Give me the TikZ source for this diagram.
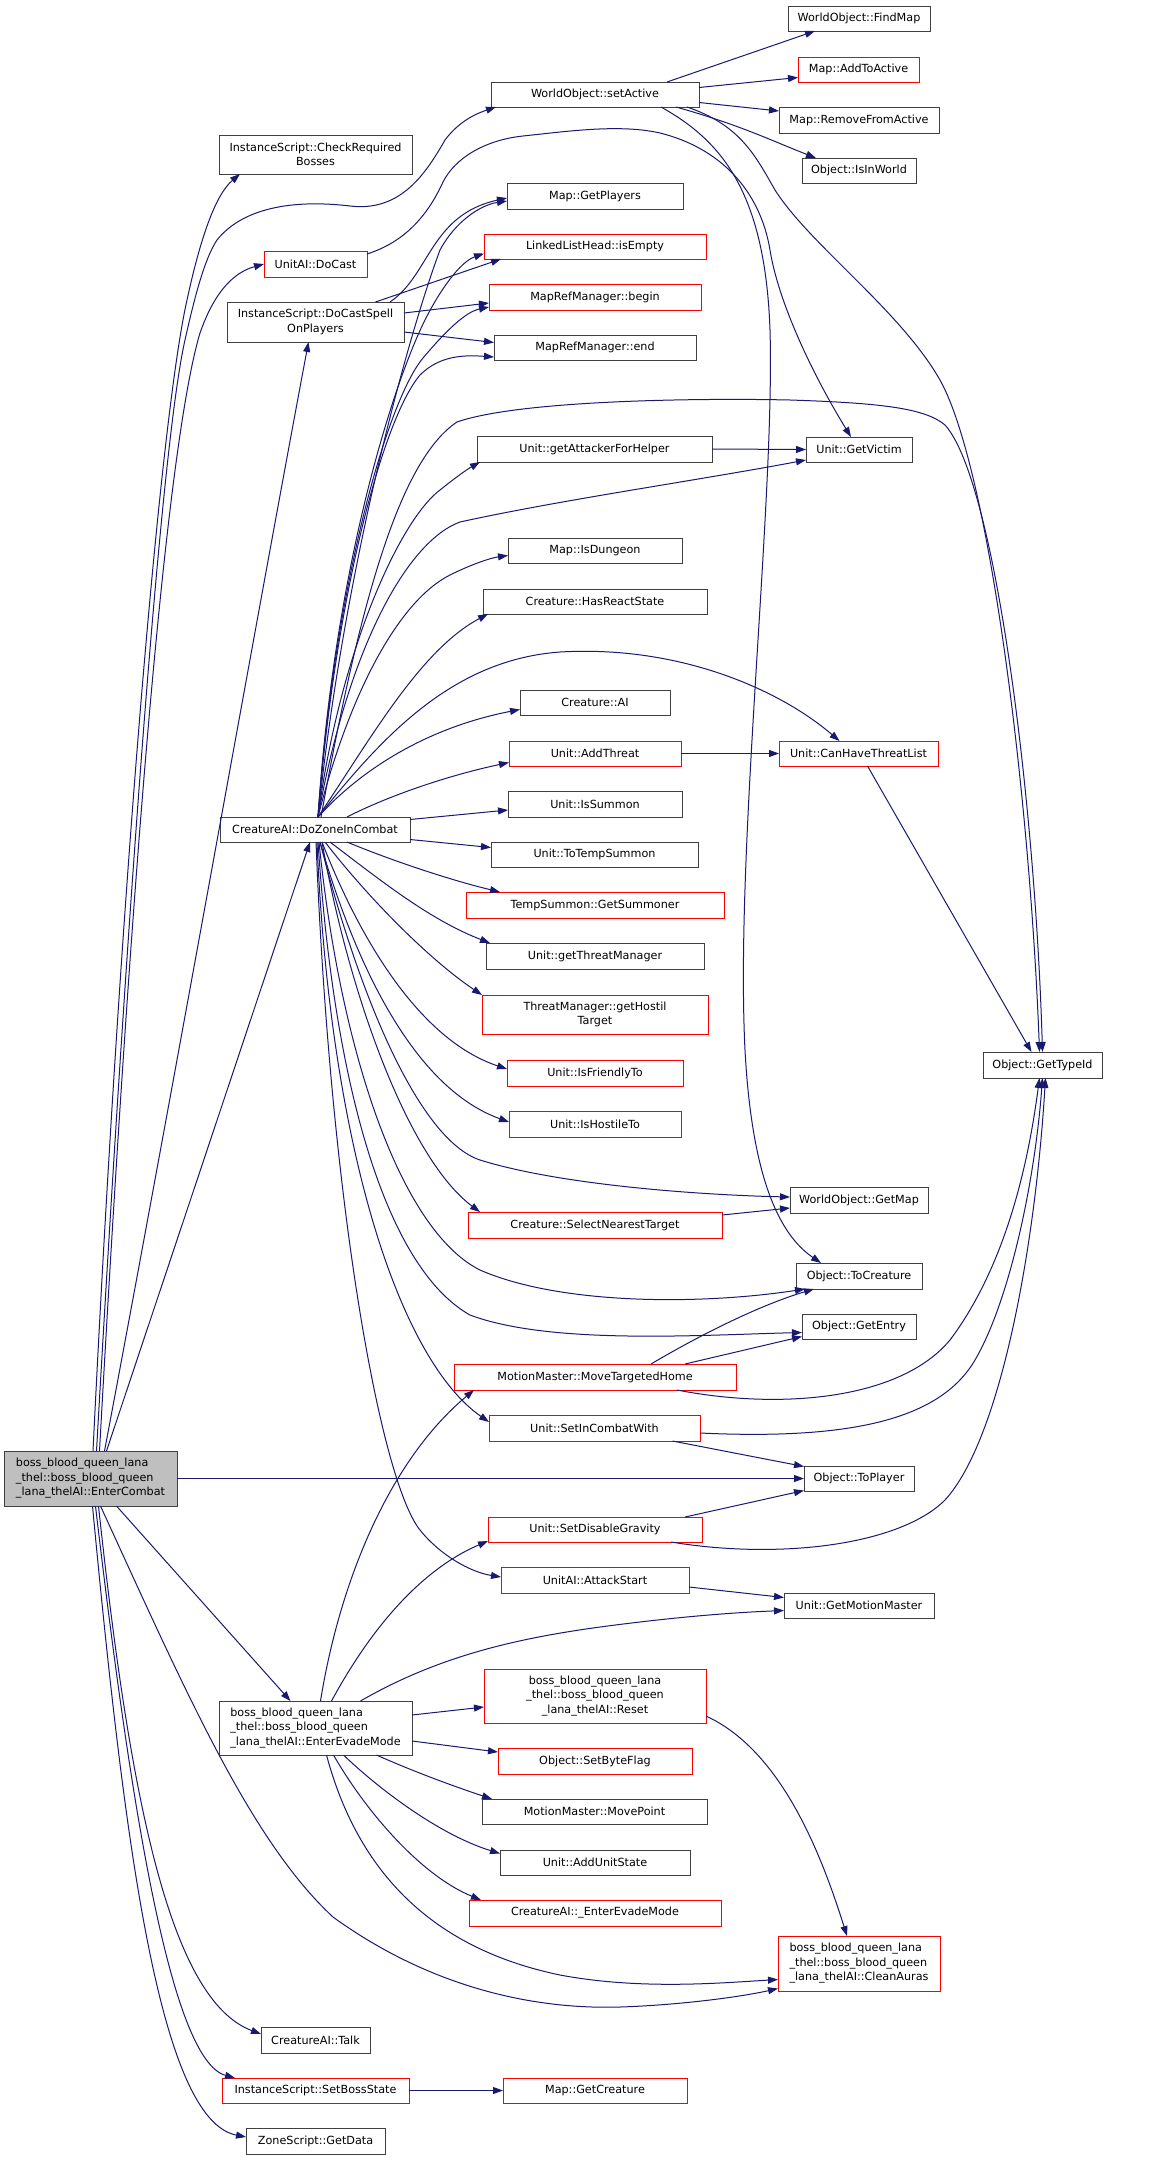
\documentclass[tikz,border=0pt]{standalone}
\usepackage{fontspec}
\setmainfont{DejaVu Sans}
\usetikzlibrary{calc,arrows.meta}
\definecolor{edgeblue}{HTML}{191970}
\definecolor{boxgray}{HTML}{404040}
\definecolor{mainfill}{HTML}{BFBFBF}
\definecolor{boxred}{HTML}{FF0000}
\tikzset{
  nd/.style={draw=#1, line width=1pt, inner sep=0pt, outer sep=0pt, fill=white,
    font=\fontsize{11.2}{14.5}\selectfont, text=black},
  bk/.style={nd=boxgray},
  rd/.style={nd=boxred},
  ed/.style={draw=edgeblue, line width=1pt, -{Triangle[length=10pt,width=7pt]}},
}
\begin{document}
\begin{tikzpicture}[x=1pt,y=-1pt]
\fill[white] (0,0) rectangle (1168,2160);
\useasboundingbox (0,0) rectangle (1168,2160);

% ---------- nodes ----------
\node[bk, fill=mainfill, align=left, minimum width=173, minimum height=55] (M) at (90.5,1478.5) {boss\_blood\_queen\_lana\\\_thel::boss\_blood\_queen\\\_lana\_thelAI::EnterCombat};
\node[bk, align=center, minimum width=193, minimum height=39] (crb) at (315.5,154.5) {InstanceScript::CheckRequired\\Bosses};
\node[rd, minimum width=103, minimum height=26] (docast) at (315.5,264) {UnitAI::DoCast};
\node[bk, align=center, minimum width=177, minimum height=40] (dcsop) at (315.5,322) {InstanceScript::DoCastSpell\\OnPlayers};
\node[bk, minimum width=208, minimum height=25] (setact) at (595,94.5) {WorldObject::setActive};
\node[bk, minimum width=176, minimum height=26] (getplayers) at (595,196) {Map::GetPlayers};
\node[rd, minimum width=222, minimum height=25] (isempty) at (595,246.5) {LinkedListHead::isEmpty};
\node[rd, minimum width=212, minimum height=26] (begin) at (595,297) {MapRefManager::begin};
\node[bk, minimum width=202, minimum height=25] (end) at (595,347.5) {MapRefManager::end};
\node[bk, minimum width=142, minimum height=25] (findmap) at (859,18.5) {WorldObject::FindMap};
\node[rd, minimum width=121, minimum height=25] (addtoactive) at (858.5,69.5) {Map::AddToActive};
\node[bk, minimum width=160, minimum height=26] (removefromactive) at (859,120) {Map::RemoveFromActive};
\node[bk, minimum width=114, minimum height=25] (isinworld) at (859,170.5) {Object::IsInWorld};
\node[bk, minimum width=106, minimum height=25] (getvictim) at (859,449.5) {Unit::GetVictim};
\node[bk, minimum width=235, minimum height=26] (getattacker) at (594.5,449) {Unit::getAttackerForHelper};
\node[bk, minimum width=174, minimum height=25] (isdungeon) at (595,550.5) {Map::IsDungeon};
\node[bk, minimum width=224, minimum height=25] (hasreact) at (595,601.5) {Creature::HasReactState};
\node[bk, minimum width=150, minimum height=25] (creatureai) at (595,702.5) {Creature::AI};
\node[bk, minimum width=190, minimum height=25] (Z) at (315,829.5) {CreatureAI::DoZoneInCombat};
\node[rd, minimum width=172, minimum height=25] (addthreat) at (595,753.5) {Unit::AddThreat};
\node[rd, minimum width=159, minimum height=25] (canhave) at (858.5,753.5) {Unit::CanHaveThreatList};
\node[bk, minimum width=174, minimum height=26] (issummon) at (595,804) {Unit::IsSummon};
\node[bk, minimum width=207, minimum height=25] (totemp) at (594.5,854.5) {Unit::ToTempSummon};
\node[rd, minimum width=258, minimum height=26] (getsummoner) at (595,905) {TempSummon::GetSummoner};
\node[bk, minimum width=218, minimum height=26] (getthreatmgr) at (595,956) {Unit::getThreatManager};
\node[rd, align=center, minimum width=226, minimum height=39] (gethostil) at (595,1014.5) {ThreatManager::getHostil\\Target};
\node[rd, minimum width=176, minimum height=26] (isfriendly) at (595,1073) {Unit::IsFriendlyTo};
\node[bk, minimum width=119, minimum height=26] (gettypeid) at (1042.5,1065) {Object::GetTypeId};
\node[rd, minimum width=172, minimum height=26] (ishostile) at (595,1124) {Unit::IsHostileTo};
\node[rd, minimum width=254, minimum height=26] (selectnearest) at (595,1225) {Creature::SelectNearestTarget};
\node[bk, minimum width=138, minimum height=26] (getmap) at (859,1200) {WorldObject::GetMap};
\node[bk, minimum width=126, minimum height=26] (tocreature) at (859,1276) {Object::ToCreature};
\node[bk, minimum width=114, minimum height=25] (getentry) at (859,1326.5) {Object::GetEntry};
\node[rd, minimum width=282, minimum height=26] (movetargeted) at (595,1377) {MotionMaster::MoveTargetedHome};
\node[rd, minimum width=211, minimum height=26] (setincombat) at (594.5,1428) {Unit::SetInCombatWith};
\node[bk, minimum width=110, minimum height=25] (toplayer) at (859,1478.5) {Object::ToPlayer};
\node[rd, minimum width=214, minimum height=25] (setdisable) at (595,1529.5) {Unit::SetDisableGravity};
\node[rd, minimum width=188, minimum height=26] (attackstart) at (595,1580) {UnitAI::AttackStart};
\node[bk, minimum width=150, minimum height=25] (getmotion) at (859,1605.5) {Unit::GetMotionMaster};
\node[bk, align=left, minimum width=193, minimum height=54] (E) at (315.5,1728) {boss\_blood\_queen\_lana\\\_thel::boss\_blood\_queen\\\_lana\_thelAI::EnterEvadeMode};
\node[rd, align=center, minimum width=222, minimum height=54] (reset) at (595,1696) {boss\_blood\_queen\_lana\\\_thel::boss\_blood\_queen\\\_lana\_thelAI::Reset};
\node[rd, minimum width=194, minimum height=26] (setbyte) at (595,1761) {Object::SetByteFlag};
\node[bk, minimum width=225, minimum height=25] (movepoint) at (594.5,1811.5) {MotionMaster::MovePoint};
\node[bk, minimum width=190, minimum height=25] (addunitstate) at (595,1862.5) {Unit::AddUnitState};
\node[rd, minimum width=252, minimum height=26] (enterevade) at (595,1913) {CreatureAI::\_EnterEvadeMode};
\node[rd, align=left, minimum width=162, minimum height=55] (cleanauras) at (859,1963.5) {boss\_blood\_queen\_lana\\\_thel::boss\_blood\_queen\\\_lana\_thelAI::CleanAuras};
\node[bk, minimum width=109, minimum height=26] (talk) at (315.5,2040) {CreatureAI::Talk};
\node[rd, minimum width=187, minimum height=25] (setboss) at (315.5,2090.5) {InstanceScript::SetBossState};
\node[rd, minimum width=184, minimum height=25] (getcreature) at (595,2090.5) {Map::GetCreature};
\node[bk, minimum width=139, minimum height=26] (getdata) at (315.5,2141) {ZoneScript::GetData};

% ---------- edges from EnterCombat ----------
\draw[ed] ($(M.north)+(2.5,0)$) .. controls (120,900) and (160,420) .. (187,300) .. controls (200,240) and (215,195) .. ($(crb.south west)+(21,0)$);
\draw[ed] ($(M.north)+(6,0)$) .. controls (125,950) and (160,450) .. (185,340) .. controls (195,295) and (205,258) .. (217,240) .. controls (245,205) and (300,200) .. (350,206) .. controls (400,212) and (425,175) .. (445,140) .. controls (460,120) and (478,113) .. ($(setact.south west)+(5,0)$);
\draw[ed] ($(M.north)+(9,0)$) .. controls (130,900) and (165,450) .. (200,333) .. controls (215,290) and (235,272) .. (docast.west);
\draw[ed] ($(M.north)+(14,0)$) .. controls (180,1050) and (260,600) .. ($(dcsop.south)+(-7,0)$);
\draw[ed] ($(M.north)+(16,0)$) -- ($(Z.south)+(-5,0)$);
\draw[ed] (M.east) -- (toplayer.west);
\draw[ed] ($(M.south)+(26,0)$) -- ($(E.north)+(-25,0)$);
\draw[ed] ($(M.south)+(10,0)$) .. controls (185,1690) and (250,1840) .. (333,1917) .. controls (420,1980) and (520,2010) .. (620,2007) .. controls (680,2005) and (740,1997) .. ($(cleanauras.west)+(0,25)$);
\draw[ed] ($(M.south)+(8,0)$) .. controls (130,1800) and (170,2000) .. ($(talk.west)+(0,-6)$);
\draw[ed] ($(M.south)+(5,0)$) .. controls (130,1800) and (170,2060) .. ($(setboss.north west)+(13,0)$);
\draw[ed] ($(M.south)+(2,0)$) .. controls (125,1850) and (160,2120) .. ($(getdata.west)+(0,-4)$);

% ---------- setActive ----------
\draw[ed] ($(setact.north)+(72,0)$) -- ($(findmap.south)+(-44,0)$);
\draw[ed] ($(setact.east)+(0,-7)$) -- ($(addtoactive.west)+(0,8)$);
\draw[ed] ($(setact.east)+(0,8)$) -- ($(removefromactive.west)+(0,-9)$);
\draw[ed] ($(setact.south)+(81,0)$) .. controls (740,125) and (770,140) .. ($(isinworld.north west)+(14,0)$);
\draw[ed] ($(setact.south)+(92,0)$) .. controls (740,125) and (755,155) .. (775,190) .. controls (810,245) and (900,310) .. (940,380) .. controls (990,470) and (1030,800) .. ($(gettypeid.north)+(-3,0)$);
\draw[ed] ($(setact.south)+(66,0)$) .. controls (720,140) and (765,190) .. (770,330) .. controls (775,500) and (735,850) .. (745,1050) .. controls (752,1180) and (780,1235) .. ($(tocreature.north west)+(25,0)$);

% ---------- DoCast ----------
\draw[ed] ($(docast.east)+(0,-10)$) .. controls (405,242) and (428,215) .. (443,182) .. controls (455,158) and (485,140) .. (523,136) .. controls (570,131) and (620,124) .. (660,133) .. controls (720,148) and (760,190) .. (770,250) .. controls (778,300) and (810,370) .. ($(getvictim.north)+(-8,0)$);

% ---------- DoCastSpellOnPlayers ----------
\draw[ed] ($(dcsop.north east)+(-14,0)$) .. controls (430,275) and (430,215) .. ($(getplayers.west)+(0,2)$);
\draw[ed] ($(dcsop.north)+(60,0)$) -- ($(isempty.south west)+(17,0)$);
\draw[ed] ($(dcsop.east)+(0,-9)$) -- ($(begin.west)+(0,6)$);
\draw[ed] ($(dcsop.east)+(0,10)$) -- ($(end.west)+(0,-5)$);

% ---------- DoZoneInCombat ----------
\draw[ed] ($(Z.north)+(3,0)$) .. controls (345,560) and (410,330) .. (440,250) .. controls (455,222) and (480,205) .. ($(getplayers.west)+(0,5)$);
\draw[ed] ($(Z.north)+(3,0)$) .. controls (335,560) and (395,380) .. (425,320) .. controls (440,290) and (460,262) .. ($(isempty.west)+(0,7)$);
\draw[ed] ($(Z.north)+(3,0)$) .. controls (335,580) and (388,400) .. (423,358) .. controls (445,332) and (465,312) .. ($(begin.south west)+(0,-3)$);
\draw[ed] ($(Z.north)+(3,0)$) .. controls (335,600) and (382,420) .. (420,375) .. controls (440,355) and (465,355) .. ($(end.south west)+(0,-3)$);
\draw[ed] ($(Z.north)+(6,0)$) .. controls (360,600) and (400,460) .. (457,422) .. controls (520,400) and (700,398) .. (790,400) .. controls (880,403) and (925,408) .. (945,425) .. controls (995,480) and (1035,800) .. (gettypeid.north);
\draw[ed] ($(Z.north)+(3,0)$) .. controls (340,650) and (400,520) .. (440,490) .. controls (455,478) and (466,470) .. ($(getattacker.south west)+(3,0)$);
\draw[ed] ($(Z.north)+(3,0)$) .. controls (350,640) and (410,540) .. (460,522) .. controls (560,500) and (700,480) .. ($(getvictim.south west)+(0,-2)$);
\draw[ed] ($(Z.north)+(3,0)$) .. controls (350,690) and (400,600) .. (450,575) .. controls (470,565) and (490,558) .. ($(isdungeon.west)+(0,5)$);
\draw[ed] ($(Z.north)+(3,0)$) .. controls (370,740) and (420,650) .. ($(hasreact.south west)+(5,0)$);
\draw[ed] ($(Z.north)+(3,0)$) .. controls (370,760) and (440,725) .. ($(creatureai.west)+(0,7)$);
\draw[ed] ($(Z.north)+(3,0)$) .. controls (380,740) and (450,660) .. (560,652) .. controls (680,645) and (780,690) .. ($(canhave.north)+(-19,0)$);
\draw[ed] ($(Z.north)+(32,0)$) .. controls (390,795) and (450,775) .. ($(addthreat.west)+(0,9)$);
\draw[ed] ($(Z.east)+(0,-10)$) -- ($(issummon.west)+(0,6)$);
\draw[ed] ($(Z.east)+(0,10)$) -- ($(totemp.west)+(0,-7)$);
\draw[ed] ($(Z.south)+(32,0)$) .. controls (390,860) and (450,880) .. ($(getsummoner.north west)+(34,0)$);
\draw[ed] ($(Z.south)+(15,0)$) .. controls (380,880) and (430,920) .. ($(getthreatmgr.north west)+(4,0)$);
\draw[ed] ($(Z.south)+(10,0)$) .. controls (370,900) and (430,960) .. (gethostil.north west);
\draw[ed] ($(Z.south)+(7,0)$) .. controls (360,940) and (420,1040) .. ($(isfriendly.west)+(0,-4)$);
\draw[ed] ($(Z.south)+(5,0)$) .. controls (360,980) and (420,1090) .. ($(ishostile.west)+(0,-2)$);
\draw[ed] ($(Z.south)+(5,0)$) .. controls (360,1000) and (420,1140) .. (480,1160) .. controls (560,1185) and (700,1195) .. ($(getmap.west)+(0,-3)$);
\draw[ed] ($(Z.south)+(7,0)$) .. controls (350,1000) and (410,1160) .. ($(selectnearest.north west)+(12,0)$);
\draw[ed] ($(Z.south)+(4,0)$) .. controls (340,1050) and (400,1230) .. (480,1270) .. controls (560,1305) and (700,1305) .. ($(tocreature.south west)+(9,0)$);
\draw[ed] ($(Z.south)+(3,0)$) .. controls (335,1100) and (390,1270) .. (470,1315) .. controls (550,1345) and (700,1335) .. ($(getentry.west)+(0,6)$);
\draw[ed] ($(Z.south)+(2,0)$) .. controls (330,1150) and (400,1360) .. ($(setincombat.west)+(0,-6)$);
\draw[ed] ($(Z.south)+(1,0)$) .. controls (330,1200) and (380,1480) .. (420,1530) .. controls (440,1555) and (470,1572) .. ($(attackstart.west)+(0,-3)$);

% ---------- other callees ----------
\draw[ed] (getattacker.east) -- (getvictim.west);
\draw[ed] (addthreat.east) -- (canhave.west);
\draw[ed] ($(canhave.south)+(9,0)$) -- ($(gettypeid.north)+(-11,0)$);
\draw[ed] ($(selectnearest.east)+(0,-10)$) -- ($(getmap.west)+(0,8)$);
\draw[ed] ($(movetargeted.north)+(56,0)$) .. controls (700,1335) and (760,1305) .. ($(tocreature.south west)+(18,0)$);
\draw[ed] ($(movetargeted.north)+(90,0)$) -- ($(getentry.west)+(0,10)$);
\draw[ed] ($(movetargeted.south)+(82,0)$) .. controls (780,1410) and (900,1400) .. (950,1340) .. controls (1010,1260) and (1030,1150) .. ($(gettypeid.south)+(-3,0)$);
\draw[ed] ($(setincombat.east)+(0,5)$) .. controls (850,1440) and (940,1420) .. (975,1360) .. controls (1010,1300) and (1035,1180) .. (gettypeid.south);
\draw[ed] ($(setincombat.south)+(78,0)$) -- ($(toplayer.west)+(0,-12)$);
\draw[ed] ($(setdisable.north)+(90,0)$) -- ($(toplayer.west)+(0,12)$);
\draw[ed] ($(setdisable.south)+(76,0)$) .. controls (780,1560) and (900,1545) .. (945,1500) .. controls (1000,1440) and (1035,1250) .. ($(gettypeid.south)+(3,0)$);
\draw[ed] ($(attackstart.east)+(0,7)$) -- ($(getmotion.west)+(0,-8)$);

% ---------- EnterEvadeMode ----------
\draw[ed] ($(E.north)+(45,0)$) .. controls (440,1655) and (520,1638) .. (600,1627) .. controls (660,1619) and (720,1613) .. ($(getmotion.west)+(0,5)$);
\draw[ed] ($(E.east)+(0,-13)$) -- ($(reset.west)+(0,11)$);
\draw[ed] ($(E.east)+(0,13)$) -- ($(setbyte.west)+(0,-9)$);
\draw[ed] ($(E.south)+(61,0)$) .. controls (410,1770) and (450,1785) .. ($(movepoint.north west)+(10,0)$);
\draw[ed] ($(E.south)+(28,0)$) .. controls (380,1790) and (440,1835) .. ($(addunitstate.west)+(0,-9)$);
\draw[ed] ($(E.south)+(18,0)$) .. controls (365,1810) and (420,1875) .. ($(enterevade.north west)+(12,0)$);
\draw[ed] ($(E.south)+(11,0)$) .. controls (360,1880) and (440,1950) .. (560,1975) .. controls (640,1990) and (720,1983) .. ($(cleanauras.west)+(0,16)$);
\draw[ed] ($(E.north)+(5,0)$) .. controls (340,1580) and (390,1460) .. ($(movetargeted.south west)+(20,0)$);
\draw[ed] ($(E.north)+(16,0)$) .. controls (370,1630) and (420,1570) .. ($(setdisable.south west)+(0,-1)$);
\draw[ed] ($(reset.east)+(0,20)$) .. controls (780,1750) and (820,1850) .. ($(cleanauras.north)+(-12,0)$);
\draw[ed] (setboss.east) -- (getcreature.west);
\end{tikzpicture}
\end{document}
